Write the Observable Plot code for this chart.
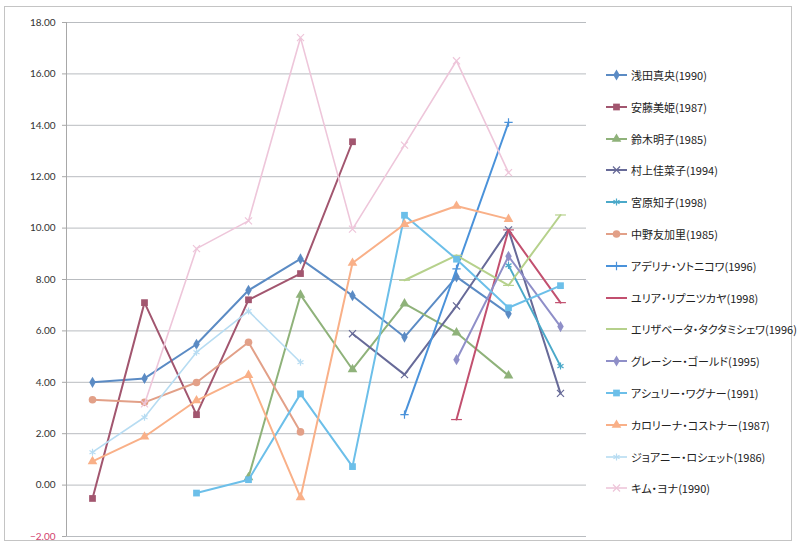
<!DOCTYPE html>
<html>
<head>
<meta charset="utf-8">
<script src="https://cdn.jsdelivr.net/npm/d3@7"></script>
<script src="https://cdn.jsdelivr.net/npm/@observablehq/plot@0.6"></script>
<style>
  body { margin: 0; background: #fff; }
  #wrap { position: relative; width: 800px; height: 547px; background: #fff; overflow: hidden; }
  #border { position: absolute; left: 4px; top: 6px; width: 788px; height: 535px; border: 1px solid #c4c4c4; box-sizing: border-box; }
  #chart { position: absolute; left: 0; top: 0; }
  #legend { position: absolute; left: 605px; top: 0; font-family: "Noto Sans CJK JP", sans-serif; font-size: 11px; color: #222; font-feature-settings: "palt"; }
  .row { position: absolute; left: 0; height: 14px; white-space: nowrap; display: flex; align-items: center; }
  .row svg { margin-right: 2px; }
</style>
</head>
<body>
<div id="wrap">
  <div id="border"></div>
  <div id="chart"></div>
  <div id="legend"></div>
</div>
<script>
// x categories (positions 1..10, no labels shown)
const categories = [1, 2, 3, 4, 5, 6, 7, 8, 9, 10];
const yTicks = [-2, 0, 2, 4, 6, 8, 10, 12, 14, 16, 18];

const seriesNames = [
  "浅田真央(1990)", "安藤美姫(1987)", "鈴木明子(1985)", "村上佳菜子(1994)",
  "宮原知子(1998)", "中野友加里(1985)", "アデリナ・ソトニコワ(1996)", "ユリア・リプニツカヤ(1998)",
  "エリザベータ・タクタミシェワ(1996)", "グレーシー・ゴールド(1995)", "アシュリー・ワグナー(1991)",
  "カロリーナ・コストナー(1987)", "ジョアニー・ロシェット(1986)", "キム・ヨナ(1990)"
];

const asada       = [4.00, 4.15, 5.48, 7.58, 8.80, 7.37, 5.76, 8.10, 6.67, null];
const ando        = [-0.52, 7.10, 2.74, 7.21, 8.23, 13.36, null, null, null, null];
const suzuki      = [null, null, null, 0.30, 7.40, 4.50, 7.06, 5.93, 4.26, null];
const murakami    = [null, null, null, null, null, 5.89, 4.30, 6.97, 9.93, 3.57];
const miyahara    = [null, null, null, null, null, null, null, null, 8.55, 4.63];
const nakano      = [3.32, 3.22, 3.99, 5.56, 2.07, null, null, null, null, null];
const sotnikova   = [null, null, null, null, null, null, 2.74, 8.41, 14.11, null];
const lipnitskaya = [null, null, null, null, null, null, null, 2.55, 9.93, 7.10];
const tuktamysheva= [null, null, null, null, null, null, 7.97, 8.94, 7.77, 10.51];
const gold        = [null, null, null, null, null, null, null, 4.88, 8.90, 6.17];
const wagner      = [null, null, -0.31, 0.21, 3.55, 0.72, 10.50, 8.79, 6.90, 7.76];
const kostner     = [0.92, 1.88, 3.29, 4.28, -0.48, 8.64, 10.15, 10.86, 10.35, null];
const rochette    = [1.28, 2.64, 5.17, 6.77, 4.78, null, null, null, null, null];
const kim         = [null, 3.16, 9.20, 10.28, 17.41, 9.96, 13.23, 16.51, 12.16, null];

const seriesValues = [asada, ando, suzuki, murakami, miyahara, nakano, sotnikova,
  lipnitskaya, tuktamysheva, gold, wagner, kostner, rochette, kim];

const colors = ["#5b8bc4", "#a2566f", "#8fb27a", "#676a98", "#4ba9c9", "#e2a088", "#4a92da",
  "#c2506f", "#b6d18c", "#8f8fc8", "#6cbfe9", "#f9b088", "#b7dcf2", "#eec6da"];
const markers = ["diamond", "square", "triangle", "times", "asterisk", "circle", "plus",
  "dash", "dash", "diamond", "square", "triangle", "asterisk", "times"];
const widths = [2, 2, 2, 2, 2, 2, 2, 2, 2, 2, 2, 2, 1.6, 1.6];

// custom dash symbol (Excel "-" marker)
const dashSymbol = {
  draw(ctx, size) {
    const w = Math.sqrt(size) * 0.9;
    ctx.moveTo(-w, 0); ctx.lineTo(w, 0);
  }
};
const symbolMap = {
  diamond: d3.symbolDiamond, square: d3.symbolSquare, triangle: d3.symbolTriangle,
  times: d3.symbolTimes, asterisk: d3.symbolAsterisk, circle: d3.symbolCircle,
  plus: d3.symbolPlus, dash: dashSymbol
};
const filled = new Set(["diamond", "square", "triangle", "circle"]);
const markerR = {diamond: 3.4, square: 3.8, triangle: 3.6, circle: 3.8, times: 3.3, asterisk: 3.3, plus: 2.8, dash: 3.4};

const rows = [];
seriesNames.forEach((name, i) => {
  seriesValues[i].forEach((v, j) => {
    if (v != null) rows.push({series: name, idx: i, x: categories[j], y: v});
  });
});

const marks = [
  Plot.ruleY(yTicks, {stroke: "#b9bcc0", strokeWidth: 1}),
  Plot.ruleX([0.5], {stroke: "#a8a8a8", strokeWidth: 1}),
  Plot.axisY(yTicks, {
    tickSize: 4, tickPadding: 7, stroke: "#a8a8a8",
    tickFormat: d3.format(".2f"),
    fill: d => d < 0 ? "#d2426e" : "#333",
    fontSize: 10, fontFamily: "Lato, 'Open Sans', sans-serif",
    label: null
  })
];
seriesNames.forEach((name, i) => {
  const data = rows.filter(r => r.idx === i);
  marks.push(Plot.line(data, {x: "x", y: "y", stroke: colors[i], strokeWidth: widths[i]}));
  const m = markers[i];
  const sym = symbolMap[m];
  marks.push(Plot.dot(data, filled.has(m)
    ? {x: "x", y: "y", symbol: () => sym, r: markerR[m], fill: colors[i], stroke: "none"}
    : {x: "x", y: "y", symbol: () => sym, r: markerR[m], fill: "none", stroke: colors[i], strokeWidth: 1.2}));
});

const chart = Plot.plot({
  width: 800,
  height: 547,
  marginLeft: 66,
  marginRight: 214,
  marginTop: 22,
  marginBottom: 11,
  x: {type: "linear", domain: [0.5, 10.5], axis: null},
  y: {domain: [-2, 18], axis: null},
  symbol: {type: "identity"},
  style: {background: "transparent", overflow: "visible"},
  marks
});
document.getElementById("chart").appendChild(chart);

// legend
const legend = document.getElementById("legend");
seriesNames.forEach((name, i) => {
  const row = document.createElement("div");
  row.className = "row";
  row.style.top = (75 + i * 31.8 - 7) + "px";
  const svg = d3.create("svg").attr("width", 24).attr("height", 14);
  svg.append("line").attr("x1", 1).attr("x2", 22).attr("y1", 7).attr("y2", 7)
    .attr("stroke", colors[i]).attr("stroke-width", widths[i]);
  const m = markers[i];
  const size = Math.PI * markerR[m] * markerR[m];
  const p = svg.append("path").attr("transform", "translate(11.5,7)")
    .attr("d", d3.symbol(symbolMap[m], size)());
  if (filled.has(m)) p.attr("fill", colors[i]); else p.attr("fill", "none").attr("stroke", colors[i]).attr("stroke-width", 1.2);
  row.appendChild(svg.node());
  const t = document.createElement("span");
  t.textContent = name;
  row.appendChild(t);
  legend.appendChild(row);
});
</script>
</body>
</html>
